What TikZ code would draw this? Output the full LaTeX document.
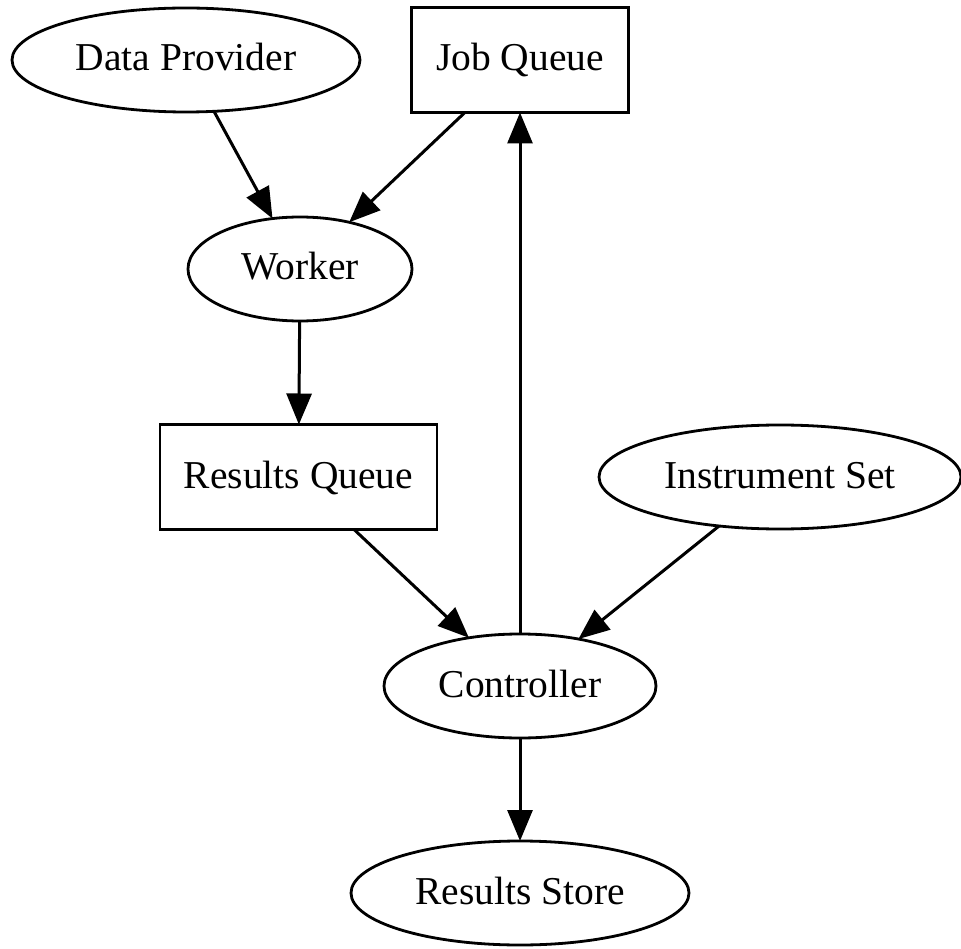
\documentclass[tikz,border=0pt]{standalone}
\usepackage{fontspec}
\setmainfont{Liberation Serif}
\usetikzlibrary{shapes.geometric,arrows.meta}
\begin{document}
\begin{tikzpicture}[x=1pt,y=-1pt,
  every node/.style={inner sep=0pt, outer sep=0pt, line width=2.8pt,
    font=\fontsize{39.5}{47}\selectfont, text height=26pt, text depth=4pt},
  oval/.style={draw, ellipse, minimum height=104pt},
  box/.style={draw, rectangle, minimum height=105pt},
  link/.style={line width=3pt, line join=miter,
    -{Triangle[length=31pt,width=25pt]}}
]
\useasboundingbox (0,0) rectangle (961,949);

% nodes
\node[oval, minimum width=348pt] (dp) at (186,60) {Data Provider};
\node[box, minimum width=217pt]  (jq) at (520,60) {Job Queue};
\node[oval, minimum width=224pt] (wk) at (300,269) {Worker};
\node[box, minimum width=277pt]  (rq) at (298.5,477) {Results Queue};
\node[oval, minimum width=362pt] (is) at (780,477) {Instrument Set};
\node[oval, minimum width=272pt] (ct) at (520,686) {Controller};
\node[oval, minimum width=338pt] (rs) at (520,893) {Results Store};

% connectors
\draw[link] (dp) -- (wk);
\draw[link] (jq) -- (wk);
\draw[link] (wk) -- (rq);
\draw[link] (rq) -- (ct);
\draw[link] (is) -- (ct);
\draw[link] (ct) -- (jq);
\draw[link] (ct) -- (rs);
\end{tikzpicture}
\end{document}
